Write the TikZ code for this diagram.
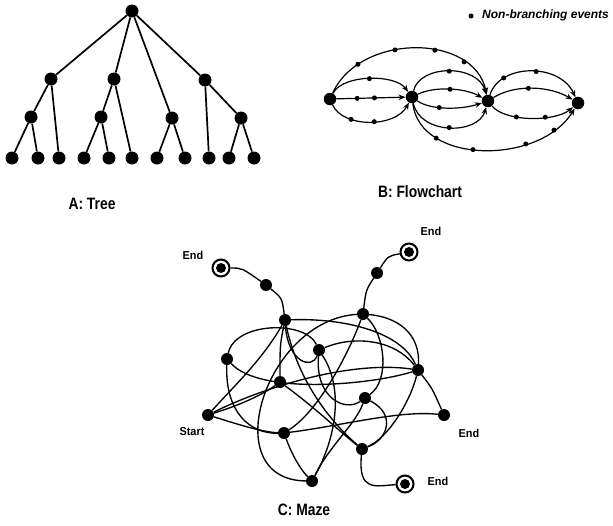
\documentclass[tikz,border=0pt]{standalone}
\usepackage{fontspec}
\setmainfont{Liberation Sans}
\newfontfamily\lbl[FakeStretch=0.84]{Liberation Sans}
\newfontfamily\smlbl[FakeStretch=0.95]{Liberation Sans}
\usetikzlibrary{arrows.meta}
\begin{document}
\begin{tikzpicture}[x=1pt,y=-1pt,
  tn/.style={circle,fill=black,inner sep=0pt,minimum size=13pt},
  te/.style={line width=1.7pt},
  fn/.style={circle,fill=black,inner sep=0pt,minimum size=12.5pt},
  ev/.style={circle,fill=black,inner sep=0pt,minimum size=5pt},
  fe/.style={line width=1.2pt,-{Stealth[length=7pt,width=5.5pt]}},
  mn/.style={circle,fill=black,inner sep=0pt,minimum size=12pt},
  mend/.style={circle,draw=black,line width=2pt,fill=white,inner sep=0pt,minimum size=17pt,
    path picture={\fill[black] (path picture bounding box.center) circle (5pt);}},
  me/.style={line width=1.35pt},
  captxt/.style={font=\lbl\bfseries\fontsize{16.5}{18}\selectfont},
  ml/.style={font=\smlbl\bfseries\fontsize{11.5}{13}\selectfont}]
\useasboundingbox (0,0) rectangle (613,525);

% ---------------- A: Tree ----------------
\node[tn] (r) at (132,11) {};
\node[tn] (a) at (51,79) {};
\node[tn] (b) at (114,79) {};
\node[tn] (d) at (205,80) {};
\node[tn] (a1) at (31,117) {};
\node[tn] (b1) at (101,117) {};
\node[tn] (c1) at (172,118) {};
\node[tn] (d1) at (241,118) {};
\node[tn] (l1) at (12,158) {};
\node[tn] (l2) at (38,158) {};
\node[tn] (l3) at (59,158) {};
\node[tn] (l4) at (84,158) {};
\node[tn] (l5) at (109,158) {};
\node[tn] (l6) at (132,158) {};
\node[tn] (l7) at (157,158) {};
\node[tn] (l8) at (185,158) {};
\node[tn] (l9) at (209,158) {};
\node[tn] (l10) at (229,158) {};
\node[tn] (l11) at (254,158) {};
\draw[te] (r)--(a) (r)--(b) (r)--(c1) (r)--(d);
\draw[te] (a)--(a1) (a)--(l3) (a1)--(l1) (a1)--(l2);
\draw[te] (b)--(b1) (b)--(l6) (b1)--(l4) (b1)--(l5);
\draw[te] (c1)--(l7) (c1)--(l8);
\draw[te] (d)--(l9) (d)--(d1) (d1)--(l10) (d1)--(l11);
\node[captxt] (capA) at (92,204) {A: Tree};

% ---------------- B: Flowchart ----------------
\node[ev] (lg) at (471,16) {};
\node[anchor=west,inner sep=0pt,font=\bfseries\itshape\fontsize{12}{14}\selectfont] (lgt) at (482,15) {Non-branching events};
\node[fn] (f1) at (330,99) {};
\node[fn] (f2) at (412,97) {};
\node[fn] (f3) at (488,101) {};
\node[fn] (f4) at (578,103) {};
% f1 -> f2
\draw[fe] (f1) -- node[ev,pos=.3] (e1) {} node[ev,pos=.55] (e2) {} (f2);
\draw[fe] (f1) .. controls (343,74) and (395,74) .. node[ev,pos=.5] (e3) {} (f2);
\draw[fe] (f1) .. controls (343,128) and (395,128) .. node[ev,pos=.3] (e4) {} node[ev,pos=.55] (e5) {} (f2);
% f1 -> f3 big arc
\draw[fe] (f1) .. controls (360,33) and (474,33) .. node[ev,pos=.2] (e6) {} node[ev,pos=.4] (e7) {} node[ev,pos=.6] (e8) {} node[ev,pos=.77] (e9) {} (f3);
% f2 -> f3
\draw[fe] (f2) .. controls (420,64) and (478,64) .. node[ev,pos=.5] (e10) {} (f3);
\draw[fe] (f2) .. controls (435,86) and (465,88) .. node[ev,pos=.5] (e11) {} (f3);
\draw[fe] (f2) .. controls (430,110) and (460,110) .. node[ev,pos=.4] (e12) {} (f3);
\draw[fe] (f2) .. controls (420,135) and (478,135) .. node[ev,pos=.5] (e13) {} (f3);
% f3 -> f4
\draw[fe] (f3) .. controls (500,63) and (560,63) .. node[ev,pos=.23] (e14) {} node[ev,pos=.55] (e15) {} (f4);
\draw[fe] (f3) .. controls (515,84) and (550,86) .. node[ev,pos=.45] (e16) {} (f4);
\draw[fe] (f3) .. controls (505,122) and (555,122) .. node[ev,pos=.35] (e17) {} node[ev,pos=.65] (e18) {} (f4);
% f2 -> f4 big lower arc
\draw[fe] (f2) .. controls (420,165) and (540,165) .. node[ev,pos=.25] (e19) {} node[ev,pos=.45] (e20) {} node[ev,pos=.7] (e21) {} node[ev,pos=.85] (e22) {} (f4);
\node[captxt] (capB) at (420,192) {B: Flowchart};

% ---------------- C: Maze ----------------
\node[mend] (en1) at (221,268) {};
\node[mn] (ma1) at (266,285) {};
\node[mn] (n1) at (285,320) {};
\node[mend] (en2) at (409,252) {};
\node[mn] (ma2) at (377,273) {};
\node[mn] (n2) at (363,314) {};
\node[mn] (n3) at (319,350) {};
\node[mn] (n4) at (227,359) {};
\node[mn] (n5) at (280,382) {};
\node[mn] (n6) at (418,370) {};
\node[mn] (n7) at (365,398) {};
\node[mn] (st) at (208,415) {};
\node[mn] (n8) at (284,433) {};
\node[mn] (n9) at (444,415) {};
\node[mn] (n10) at (362,449) {};
\node[mn] (n11) at (312,481) {};
\node[mend] (en3) at (405,484) {};

\draw[me] (en1) .. controls (242,268) .. (ma1);
\draw[me] (ma1) .. controls (282,298) .. (n1);
\draw[me] (en2) .. controls (388,256) .. (ma2);
\draw[me] (ma2) .. controls (366,290) .. (n2);
\draw[me] (n10) .. controls (358,492) and (375,486) .. (en3);
\draw[me] (n6) .. controls (432,388) .. (n9);

\draw[me] (st) .. controls (240,425) and (262,432) .. (n8);
\draw[me] (st) .. controls (235,385) and (262,360) .. (n1);
\draw[me] (st) .. controls (240,405) and (262,395) .. (n5);
\draw[me] (n6) .. controls (350,360) and (262,388) .. (st);
\draw[me] (n4) .. controls (235,322) and (305,320) .. (n3);
\draw[me] (n4) .. controls (260,395) and (370,385) .. (n6);
\draw[me] (n4) .. controls (225,412) and (250,434) .. (n8);
\draw[me] (n1) .. controls (280,345) .. (n5);
\draw[me] (n1) .. controls (300,390) and (340,430) .. (n10);
\draw[me] (n1) .. controls (288,362) and (312,370) .. (n3);
\draw[me] (n1) .. controls (340,318) and (400,330) .. (n6);
\draw[me] (n2) .. controls (265,320) and (215,480) .. (n11);
\draw[me] (n2) .. controls (405,318) and (420,340) .. (n6);
\draw[me] (n2) .. controls (385,335) and (390,380) .. (n7);
\draw[me] (n2) .. controls (350,350) and (320,410) .. (n8);
\draw[me] (n3) .. controls (315,398) and (345,412) .. (n7);
\draw[me] (n3) .. controls (355,335) and (395,340) .. (n6);
\draw[me] (n11) .. controls (330,445) and (355,425) .. (n7);
\draw[me] (n11) .. controls (335,440) and (345,390) .. (n3);
\draw[me] (n8) .. controls (294,460) and (303,472) .. (n11);
\draw[me] (n7) .. controls (397,415) and (387,440) .. (n10);
\draw[me] (n6) .. controls (410,402) and (388,438) .. (n10);
\draw[me] (n5) .. controls (318,410) and (340,432) .. (n10);
\draw[me] (n8) .. controls (340,426) and (400,410) .. (n9);

\node[ml] (t1) at (193,255) {End};
\node[ml] (t2) at (431,231) {End};
\node[ml] (t3) at (192,432) {Start};
\node[ml] (t4) at (469,433) {End};
\node[ml] (t5) at (438,481) {End};
\node[captxt] (capC) at (304,510) {C: Maze};
\end{tikzpicture}
\end{document}
